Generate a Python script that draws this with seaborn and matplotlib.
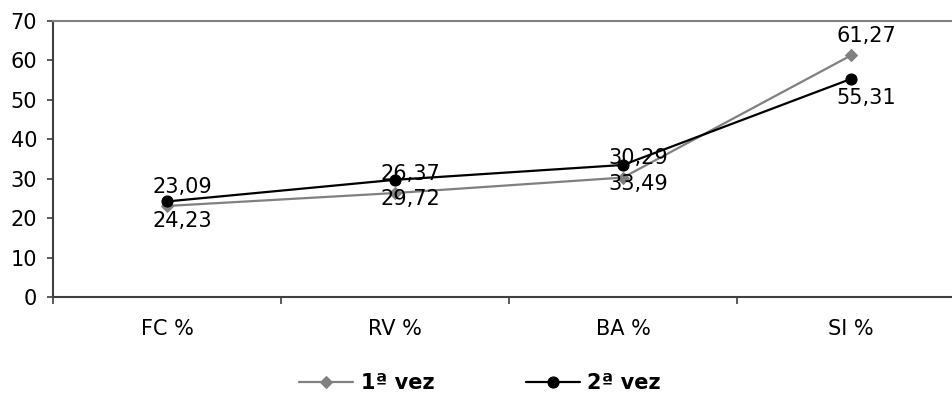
import matplotlib
matplotlib.use("Agg")
import matplotlib.pyplot as plt
from matplotlib.ticker import FixedLocator
import seaborn as sns
import pandas as pd

categories = ["FC %", "RV %", "BA %", "SI %"]
primeira = [23.09, 26.37, 30.29, 61.27]
segunda = [24.23, 29.72, 33.49, 55.31]
series_names = ["1ª vez", "2ª vez"]

sns.set_style("white")
plt.rcParams["font.family"] = ["DejaVu Sans"]
plt.rcParams["text.color"] = "black"
plt.rcParams["xtick.color"] = "black"
plt.rcParams["ytick.color"] = "black"

fig = plt.figure(figsize=(9.53, 3.96), dpi=100)
ax = fig.add_axes([53 / 953, 1 - 297 / 396, 912 / 953, 276 / 396])

df1 = pd.DataFrame({"cat": categories, "val": primeira})
df2 = pd.DataFrame({"cat": categories, "val": segunda})

sns.lineplot(data=df1, x="cat", y="val", ax=ax, color="#808080", lw=1.6,
             marker="D", markersize=6.5, markeredgecolor="#808080",
             label=series_names[0], sort=False)
sns.lineplot(data=df2, x="cat", y="val", ax=ax, color="black", lw=1.6,
             marker="o", markersize=8, markeredgecolor="black",
             label=series_names[1], sort=False)

fs = 15
# value labels: first series above its points, second series below
for i, v in enumerate(primeira):
    ax.annotate(f"{v:.2f}".replace(".", ","), (i, v), xytext=(11, 14),
                textcoords="offset points", ha="center", va="center",
                fontsize=fs, color="black")
for i, v in enumerate(segunda):
    ax.annotate(f"{v:.2f}".replace(".", ","), (i, v), xytext=(11, -14),
                textcoords="offset points", ha="center", va="center",
                fontsize=fs, color="black")

ax.set_xlim(-0.5, 3.5)
ax.set_ylim(0, 70)
ax.set_yticks(range(0, 71, 10))
ax.set_xticks(range(len(categories)))
ax.set_xticklabels(categories)
ax.xaxis.set_minor_locator(FixedLocator([-0.5, 0.5, 1.5, 2.5, 3.5]))
ax.set_xlabel("")
ax.set_ylabel("")

ax.tick_params(axis="y", which="major", length=4.5, width=1.2, color="#404040",
               direction="out", labelsize=fs, pad=7, left=True, labelcolor="black")
ax.tick_params(axis="x", which="major", length=0, labelsize=fs, pad=16,
               labelcolor="black")
ax.tick_params(axis="x", which="minor", length=5, width=1.2, color="#404040",
               direction="out", bottom=True)

for side in ["left", "bottom"]:
    ax.spines[side].set_color("#404040")
    ax.spines[side].set_linewidth(1.5)
ax.spines["top"].set_color("#808080")
ax.spines["top"].set_linewidth(1.5)
ax.spines["right"].set_visible(False)

handles, labels = ax.get_legend_handles_labels()
ax.get_legend().remove()
fig.legend(handles, labels, loc="center", bbox_to_anchor=(480 / 953, 1 - 383 / 396),
           ncol=2, frameon=False, handlelength=2.6, handletextpad=0.35,
           columnspacing=4.4, prop={"size": fs, "weight": "bold"})

fig.savefig("out.png", dpi=100)
